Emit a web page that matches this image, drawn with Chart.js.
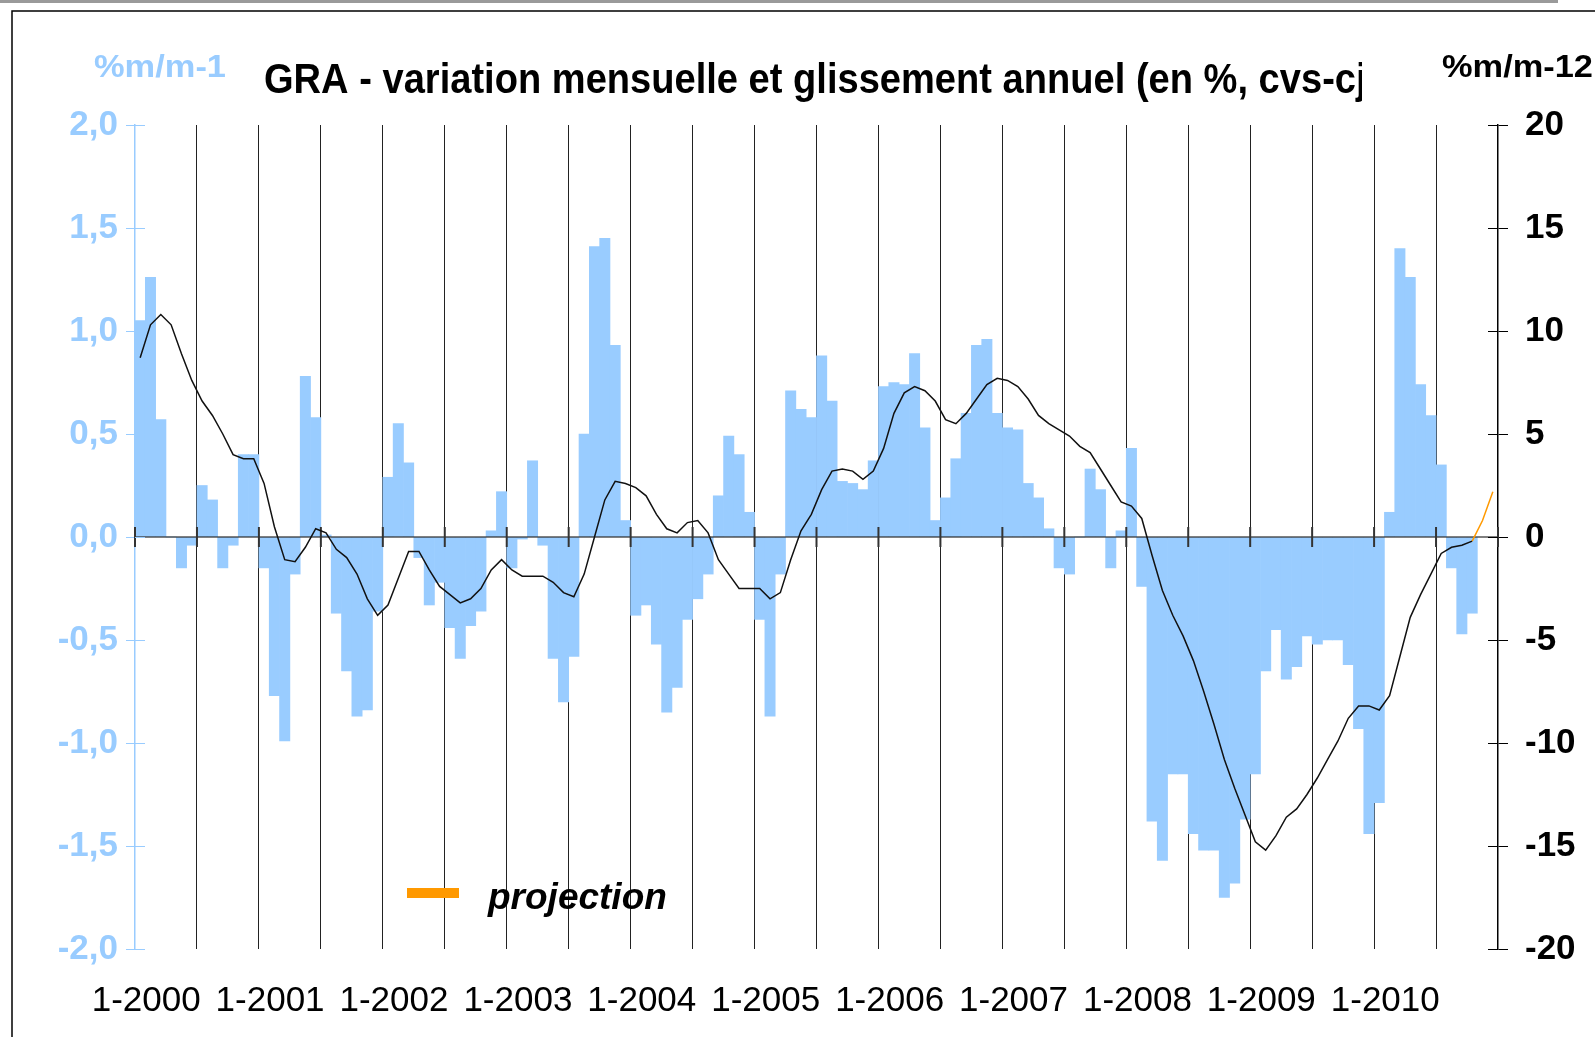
<!DOCTYPE html>
<html>
<head>
<meta charset="utf-8">
<title>GRA - variation mensuelle et glissement annuel</title>
<script src="https://cdn.jsdelivr.net/npm/chart.js@4.4.1/dist/chart.umd.min.js"></script>
<style>
    html, body { margin: 0; padding: 0; background: #ffffff; }
    canvas { display: block; }
</style>
</head>
<body>
<canvas id="chart" width="1595" height="1037"></canvas>
<script>
// GRA - variation mensuelle (barres, axe gauche) et glissement annuel (courbe, axe droit)

const YEARS = [2000, 2001, 2002, 2003, 2004, 2005, 2006, 2007, 2008, 2009, 2010];
const MONTHS = [1, 2, 3, 4, 5, 6, 7, 8, 9, 10, 11, 12];

// %m/m-1, one row per year (Jan..Dec)
const monthlyChange = [
    1.05, 1.26, 0.57, 0.00, -0.15, -0.04, 0.25, 0.18, -0.15, -0.04, 0.40, 0.40,     // 2000
    -0.15, -0.77, -0.99, -0.18, 0.78, 0.58, 0.01, -0.37, -0.65, -0.87, -0.84, -0.36, // 2001
    0.29, 0.55, 0.36, -0.10, -0.33, -0.22, -0.44, -0.59, -0.43, -0.36, 0.03, 0.22,   // 2002
    -0.15, -0.01, 0.37, -0.04, -0.59, -0.80, -0.58, 0.50, 1.41, 1.45, 0.93, 0.08,    // 2003
    -0.38, -0.33, -0.52, -0.85, -0.73, -0.40, -0.30, -0.18, 0.20, 0.49, 0.40, 0.12,  // 2004
    -0.40, -0.87, -0.18, 0.71, 0.62, 0.58, 0.88, 0.66, 0.27, 0.26, 0.23, 0.37,       // 2005
    0.73, 0.75, 0.74, 0.89, 0.53, 0.08, 0.19, 0.38, 0.60, 0.93, 0.96, 0.60,          // 2006
    0.53, 0.52, 0.26, 0.19, 0.04, -0.15, -0.18, 0.00, 0.33, 0.23, -0.15, 0.03,       // 2007
    0.43, -0.24, -1.38, -1.57, -1.15, -1.15, -1.44, -1.52, -1.52, -1.75, -1.68, -1.37, // 2008
    -1.15, -0.65, -0.45, -0.69, -0.63, -0.48, -0.52, -0.50, -0.50, -0.62, -0.93, -1.44, // 2009
    -1.29, 0.12, 1.40, 1.26, 0.74, 0.59, 0.35, -0.15, -0.47, -0.37                   // 2010
];

// %m/m-12, one row per year
const annualChange = [
    8.7, 10.3, 10.8, 10.3, 8.9, 7.6, 6.6, 5.9, 5.0, 4.0, 3.8, 3.8,            // 2000
    2.6, 0.5, -1.1, -1.2, -0.5, 0.4, 0.2, -0.6, -1.0, -1.8, -3.0, -3.8,        // 2001
    -3.3, -2.0, -0.7, -0.7, -1.6, -2.4, -2.8, -3.2, -3.0, -2.5, -1.6, -1.1,    // 2002
    -1.6, -1.9, -1.9, -1.9, -2.2, -2.7, -2.9, -1.8, 0.0, 1.8, 2.7, 2.6,        // 2003
    2.4, 2.0, 1.1, 0.4, 0.2, 0.7, 0.8, 0.2, -1.1, -1.8, -2.5, -2.5,            // 2004
    -2.5, -3.0, -2.7, -1.1, 0.3, 1.1, 2.3, 3.2, 3.3, 3.2, 2.8, 3.2,            // 2005
    4.3, 6.0, 7.0, 7.3, 7.1, 6.6, 5.7, 5.5, 6.0, 6.7, 7.4, 7.7,                // 2006
    7.6, 7.3, 6.7, 5.9, 5.5, 5.2, 4.9, 4.4, 4.1, 3.3, 2.5, 1.7,                // 2007
    1.5, 0.9, -0.9, -2.6, -3.8, -4.8, -6.0, -7.5, -9.1, -10.8, -12.2, -13.5,   // 2008
    -14.8, -15.2, -14.5, -13.6, -13.2, -12.5, -11.7, -10.8, -9.9, -8.8, -8.2, -8.2, // 2009
    -8.4, -7.7, -5.8, -3.9, -2.8, -1.8, -0.8, -0.5, -0.4, -0.2                 // 2010
];

// projection of the annual change
const projectionMonths = ["10-2010", "11-2010", "12-2010"];
const projectionValues = [-0.2, 0.8, 2.2];

const LEFT_TICK_STEP = 0.5;
const RIGHT_TICK_STEP = 5;

const BLUE = "#99ccff";
const ORANGE = "#ff9900";
const FONT = "'Liberation Sans', Arial, sans-serif";

// month labels "1-2000" ... "12-2010"
const labels = [];
YEARS.forEach(y => MONTHS.forEach(m => labels.push(m + "-" + y)));

// draws text squeezed horizontally to a given width
function drawFitted(ctx, text, x, y, font, color, width, measureText) {
    ctx.save();
    ctx.font = font;
    const w = ctx.measureText(measureText || text).width;
    ctx.translate(x, y);
    ctx.scale(width / w, 1);
    ctx.fillStyle = color;
    ctx.textBaseline = "alphabetic";
    ctx.textAlign = "left";
    ctx.fillText(text, 0, 0);
    ctx.restore();
}

const decorPlugin = {
    id: "decor",
    beforeDraw(chart) {
        const ctx = chart.ctx;
        ctx.save();
        ctx.fillStyle = "#ffffff";
        ctx.fillRect(0, 0, chart.width, chart.height);
        // grey strip and frame
        ctx.fillStyle = "#9a9a9a";
        ctx.fillRect(0, 0, 1558, 3);
        ctx.strokeStyle = "#000000";
        ctx.lineWidth = 1.5;
        ctx.beginPath();
        ctx.moveTo(12, chart.height);
        ctx.lineTo(12, 11);
        ctx.lineTo(chart.width, 11);
        ctx.stroke();
        ctx.restore();
    },
    afterDatasetDraw(chart, args) {
        if (args.index !== 0) return;
        // zero line with half-year tick marks, drawn over the bars
        const ctx = chart.ctx;
        const area = chart.chartArea;
        const x = chart.scales.x;
        const y0 = chart.scales.y.getPixelForValue(0);
        ctx.save();
        ctx.strokeStyle = "#000000";
        ctx.lineWidth = 1.2;
        ctx.beginPath();
        ctx.moveTo(area.left, y0);
        ctx.lineTo(area.right, y0);
        ctx.stroke();
        ctx.lineWidth = 2;
        ctx.strokeStyle = "#333333";
        for (let i = 0; i <= labels.length; i += 6) {
            const px = i < labels.length
                ? x.getPixelForValue(i) - (x.getPixelForValue(1) - x.getPixelForValue(0)) / 2
                : area.right;
            ctx.beginPath();
            ctx.moveTo(px, y0 - 10);
            ctx.lineTo(px, y0 + 10);
            ctx.stroke();
        }
        ctx.restore();
    },
    afterDraw(chart) {
        const ctx = chart.ctx;
        const area = chart.chartArea;
        const yl = chart.scales.y;
        const yr = chart.scales.y2;

        // inner halves of the axis tick marks
        ctx.save();
        ctx.lineWidth = 1;
        ctx.strokeStyle = BLUE;
        yl.ticks.forEach(t => {
            const py = Math.round(yl.getPixelForValue(t.value)) + 0.5;
            ctx.beginPath();
            ctx.moveTo(area.left, py);
            ctx.lineTo(area.left + 10, py);
            ctx.stroke();
        });
        ctx.strokeStyle = "#000000";
        yr.ticks.forEach(t => {
            const py = Math.round(yr.getPixelForValue(t.value)) + 0.5;
            ctx.beginPath();
            ctx.moveTo(area.right - 10, py);
            ctx.lineTo(area.right, py);
            ctx.stroke();
        });
        ctx.restore();

        // title, clipped on the right
        ctx.save();
        ctx.beginPath();
        ctx.rect(0, 20, 1362, 100);
        ctx.clip();
        drawFitted(ctx, "GRA - variation mensuelle et glissement annuel (en %, cvs-cjo)",
            264, 93, "bold 42px " + FONT, "#000000", 1092,
            "GRA - variation mensuelle et glissement annuel (en %, cvs-c");
        ctx.restore();

        // axis units
        drawFitted(ctx, "%m/m-1", 94, 77, "bold 31px " + FONT, BLUE, 132);
        drawFitted(ctx, "%m/m-12", 1442, 77, "bold 31px " + FONT, "#000000", 151);

        // legend
        ctx.save();
        ctx.fillStyle = ORANGE;
        ctx.fillRect(407, 888, 52, 10);
        ctx.font = "italic bold 37px " + FONT;
        ctx.fillStyle = "#000000";
        ctx.textBaseline = "alphabetic";
        ctx.fillText("projection", 488, 909);
        ctx.restore();
    }
};

new Chart(document.getElementById("chart"), {
    data: {
        labels: labels,
        datasets: [
            {
                type: "bar",
                label: "%m/m-1",
                data: monthlyChange,
                yAxisID: "y",
                backgroundColor: BLUE,
                borderWidth: 0,
                barPercentage: 1,
                categoryPercentage: 1,
                order: 3
            },
            {
                type: "line",
                label: "%m/m-12",
                data: annualChange,
                yAxisID: "y2",
                borderColor: "#111111",
                borderWidth: 1.5,
                pointRadius: 0,
                tension: 0,
                fill: false,
                order: 2
            },
            {
                type: "line",
                label: "projection",
                data: projectionMonths.map((m, i) => ({ x: m, y: projectionValues[i] })),
                yAxisID: "y2",
                borderColor: ORANGE,
                borderWidth: 1.5,
                pointRadius: 0,
                tension: 0,
                fill: false,
                order: 1
            }
        ]
    },
    options: {
        responsive: false,
        devicePixelRatio: 1,
        animation: false,
        layout: { padding: { top: 125, left: 0, right: 0, bottom: 0 } },
        plugins: {
            legend: { display: false },
            tooltip: { enabled: false },
            title: { display: false }
        },
        scales: {
            x: {
                type: "category",
                offset: true,
                grid: {
                    offset: true,
                    drawTicks: false,
                    lineWidth: 1,
                    color: function(context) {
                        const i = context.index;
                        return (i > 0 && i % 6 === 0) ? "#222222" : "rgba(0,0,0,0)";
                    }
                },
                border: { display: false },
                ticks: {
                    autoSkip: false,
                    maxRotation: 0,
                    minRotation: 0,
                    padding: 31,
                    labelOffset: 6,
                    color: "#000000",
                    font: { family: FONT, size: 35 },
                    callback: function(value, index) {
                        return index % 12 === 0 ? labels[index] : "";
                    }
                },
                afterFit: function(scale) { scale.height = 88; }
            },
            y: {
                position: "left",
                min: -2,
                max: 2,
                ticks: {
                    stepSize: LEFT_TICK_STEP,
                    color: BLUE,
                    padding: 8,
                    font: { family: FONT, size: 35, weight: "bold" },
                    callback: function(value) {
                        return value.toFixed(1).replace(".", ",");
                    }
                },
                grid: {
                    drawOnChartArea: false,
                    tickLength: 9,
                    tickColor: BLUE
                },
                border: { color: BLUE, width: 1.5 },
                afterFit: function(scale) { scale.width = 135; }
            },
            y2: {
                position: "right",
                min: -20,
                max: 20,
                ticks: {
                    stepSize: RIGHT_TICK_STEP,
                    color: "#000000",
                    padding: 17,
                    font: { family: FONT, size: 35, weight: "bold" }
                },
                grid: {
                    drawOnChartArea: false,
                    tickLength: 10,
                    tickColor: "#000000"
                },
                border: { color: "#000000", width: 1.5 },
                afterFit: function(scale) { scale.width = 97; }
            }
        }
    },
    plugins: [decorPlugin]
});
</script>
</body>
</html>
